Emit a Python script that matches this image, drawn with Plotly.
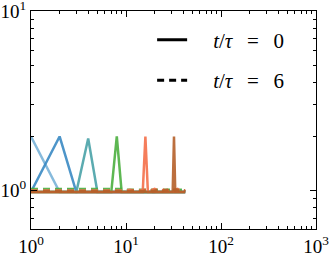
import plotly.graph_objects as go
import math

# ---- data ----
x_vals = list(range(1, 43))

colors = ["#7ab3d9", "#3a8ac4", "#4aa3a8", "#4cb040", "#f5704a", "#b5602a"]

# t/tau = 0 (solid)
y0_a = [2.0] + [0.98] * 41
y0_b = [0.98, 2.0] + [0.98] * 40
y0_c = [0.98, 0.98, 0.98, 1.95] + [0.98] * 38
y0_d = [0.98] * 7 + [2.0] + [0.98] * 34
y0_e = [0.98] * 15 + [2.0] + [0.98] * 26
y0_f = [0.98] * 31 + [2.0] + [0.98] * 10

# t/tau = 6 (dashed)
y6_a = [1.0, 1.0, 1.0, 0.99, 0.99, 0.99, 1.0, 1.0, 0.99, 1.0, 1.0, 0.99, 0.99, 0.99,
        1.0, 1.0, 0.99, 0.99, 0.98, 0.98, 0.99, 0.99, 1.0, 0.99, 0.99, 1.0, 1.0, 0.99,
        0.99, 0.99, 1.0, 1.0, 0.99, 0.99, 1.0, 1.0, 0.99, 0.99, 1.0, 1.0, 0.99, 1.0]
y6_b = [1.0, 1.01, 1.01, 1.0, 1.0, 1.0, 1.0, 1.0, 1.0, 1.0, 1.0, 1.0, 1.0, 1.0,
        1.0, 1.0, 1.0, 1.0, 0.99, 0.99, 1.0, 1.0, 1.0, 1.0, 1.0, 1.0, 1.0, 1.0,
        1.0, 1.0, 1.0, 1.0, 1.0, 1.0, 1.0, 1.0, 1.0, 1.0, 1.0, 1.0, 1.0, 1.0]
y6_c = [1.0, 1.0, 1.0, 1.0, 1.0, 0.99, 0.99, 1.0, 1.0, 1.0, 1.0, 1.0, 1.0, 0.99,
        0.99, 1.0, 1.0, 1.0, 1.0, 1.0, 1.0, 1.0, 1.0, 0.99, 0.99, 0.99, 1.0, 1.0,
        1.0, 1.0, 1.0, 1.0, 1.0, 1.0, 1.0, 1.0, 1.0, 1.0, 1.0, 1.0, 1.0, 1.0]
y6_d = [1.02, 1.02, 1.02, 1.02, 1.02, 1.02, 1.02, 1.02, 1.02, 1.01, 1.01, 1.01, 1.01, 1.01,
        1.01, 1.01, 1.01, 1.01, 1.01, 1.01, 1.01, 1.01, 1.01, 1.01, 1.01, 1.01, 1.01, 1.01,
        1.01, 1.01, 1.01, 1.01, 1.01, 1.01, 1.01, 1.01, 1.01, 1.01, 1.01, 1.01, 1.01, 1.01]
y6_e = [1.0, 1.0, 1.0, 1.0, 1.0, 1.0, 1.0, 1.0, 1.0, 1.0, 1.01, 1.0, 1.0, 1.0,
        1.01, 1.01, 1.0, 1.0, 1.01, 1.02, 1.01, 1.0, 1.0, 1.0, 1.01, 1.0, 1.0, 1.01,
        1.02, 1.01, 1.0, 1.0, 1.01, 1.02, 1.02, 1.01, 1.0, 1.01, 1.01, 1.0, 1.0, 1.0]
y6_f = [0.99, 0.99, 0.99, 0.99, 0.99, 0.99, 0.99, 0.99, 0.99, 0.99, 0.99, 1.0, 1.0, 0.99,
        0.99, 1.0, 1.0, 1.0, 0.99, 1.0, 1.0, 1.01, 1.0, 0.99, 1.0, 1.01, 1.01, 1.0,
        1.0, 1.01, 1.02, 1.01, 1.0, 1.01, 1.01, 1.0, 1.0, 1.01, 1.0, 1.0, 1.0, 0.99]

solid_series = [y0_a, y0_b, y0_c, y0_d, y0_e, y0_f]
dashed_series = [y6_a, y6_b, y6_c, y6_d, y6_e, y6_f]

x_tickvals = [1, 10, 100, 1000]
x_ticktext = ["10<sup>0</sup>", "10<sup>1</sup>", "10<sup>2</sup>", "10<sup>3</sup>"]
y_tickvals = [1, 10]
y_ticktext = ["10<sup>0</sup>", "10<sup>1</sup>"]
x_minor_vals = [2, 3, 4, 5, 6, 7, 8, 9, 20, 30, 40, 50, 60, 70, 80, 90,
                200, 300, 400, 500, 600, 700, 800, 900]
y_minor_vals = [0.7, 0.8, 0.9, 2, 3, 4, 5, 6, 7, 8, 9]
legend_labels = ["\u2003<i>t</i>/<i>τ</i>\u2002\u2009=\u2002\u20090",
                 "\u2003<i>t</i>/<i>τ</i>\u2002\u2009=\u2002\u20096"]

y_range = [math.log10(0.61), 1]

fig = go.Figure()
for c, ys, yd in zip(colors, solid_series, dashed_series):
    fig.add_trace(go.Scatter(x=x_vals, y=ys, mode="lines", showlegend=False,
                             line=dict(color=c, width=2.5), opacity=0.9))
    fig.add_trace(go.Scatter(x=x_vals, y=yd, mode="lines", showlegend=False,
                             line=dict(color=c, width=2.5, dash="7px,5px"), opacity=0.9))

fig.add_trace(go.Scatter(x=[None], y=[None], mode="lines", name=legend_labels[0],
                         line=dict(color="black", width=3), legendgroup="a"))
fig.add_trace(go.Scatter(x=[None], y=[None], mode="lines", name=legend_labels[1],
                         line=dict(color="black", width=3, dash="7px,5px"), legendgroup="b"))
# carrier trace for the minor-tick overlay axes
fig.add_trace(go.Scatter(x=[None], y=[None], mode="lines", showlegend=False,
                         xaxis="x2", yaxis="y2", hoverinfo="skip"))

serif = "Liberation Serif"
font = dict(family=serif, size=19, color="black")

axis_common = dict(showgrid=False, zeroline=False, showline=True, linecolor="black",
                   linewidth=1, mirror="ticks", ticks="inside", ticklen=6,
                   tickcolor="black", tickwidth=1, tickfont=font, automargin=False,
                   ticklabeloverflow="allow")
minor_common = dict(showgrid=False, zeroline=False, showline=False, mirror="ticks",
                    ticks="inside", ticklen=3, tickcolor="black", tickwidth=1,
                    showticklabels=False, automargin=False, type="log")

fig.update_layout(
    xaxis=dict(type="log", range=[0, 3], tickvals=x_tickvals, ticktext=x_ticktext,
               **axis_common),
    yaxis=dict(type="log", range=y_range, tickvals=y_tickvals, ticktext=y_ticktext,
               **axis_common),
    xaxis2=dict(range=[0, 3], tickvals=x_minor_vals, overlaying="x", anchor="y2",
                **minor_common),
    yaxis2=dict(range=y_range, tickvals=y_minor_vals, overlaying="y", anchor="x2",
                **minor_common),
    width=329, height=256,
    margin=dict(l=31, r=13, t=11, b=27),
    plot_bgcolor="white", paper_bgcolor="white",
    font=font,
    showlegend=True,
    legend=dict(x=0.425, y=0.96, xanchor="left", yanchor="top", bgcolor="rgba(0,0,0,0)",
                font=dict(family=serif, size=21, color="black"),
                tracegroupgap=10, traceorder="grouped"),
)

fig.write_html("out.html", config={"displayModeBar": False},
               post_script="document.body.style.margin='0';")
